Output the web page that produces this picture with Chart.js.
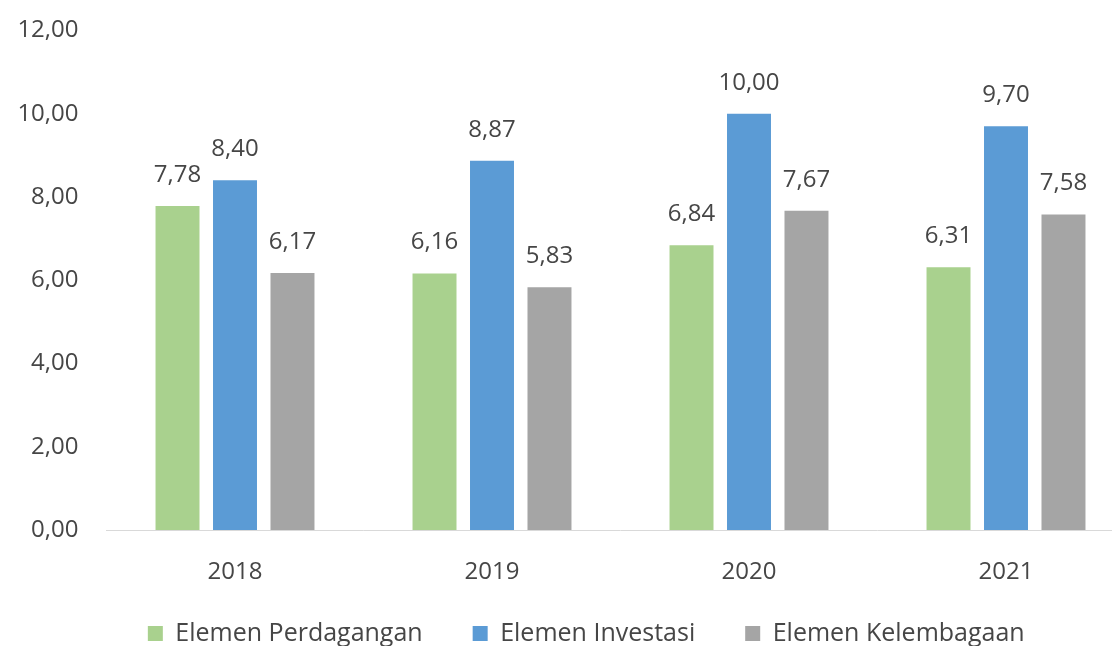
<!DOCTYPE html>
<html lang="id">
<head>
    <meta charset="UTF-8">
    <title>Elemen Perdagangan, Investasi, Kelembagaan</title>
    <script src="https://cdn.jsdelivr.net/npm/chart.js"></script>
    <style>
        html, body { margin: 0; padding: 0; background: #fff; overflow: hidden; }
        #wrap { width: 1170px; height: 685px; margin-top: -12px; }
    </style>
</head>
<body>
<div id="wrap">
    <canvas id="barChart" width="1170" height="685"></canvas>
</div>
<script>
    const years = ['2018', '2019', '2020', '2021'];
    const perdagangan = [7.78, 6.16, 6.84, 6.31];
    const investasi = [8.40, 8.87, 10.00, 9.70];
    const kelembagaan = [6.17, 5.83, 7.67, 7.58];
    const yTicks = [0, 2, 4, 6, 8, 10, 12];

    const textColor = '#464646';
    const fontFamily = '"Open Sans", "Noto Sans", sans-serif';

    function fmt(v) {
        return v.toFixed(2).replace('.', ',');
    }

    // value labels above each bar
    const barLabels = {
        id: 'barLabels',
        afterDatasetsDraw(chart) {
            const ctx = chart.ctx;
            ctx.save();
            ctx.fillStyle = textColor;
            ctx.font = '24px ' + fontFamily;
            ctx.textAlign = 'center';
            ctx.textBaseline = 'middle';
            chart.data.datasets.forEach((ds, i) => {
                chart.getDatasetMeta(i).data.forEach((bar, j) => {
                    ctx.fillText(fmt(ds.data[j]), bar.x, bar.y - 31);
                });
            });
            ctx.restore();
        }
    };

    // nudge the legend a bit closer to the axis labels, like the original
    const legendNudge = {
        id: 'legendNudge',
        afterLayout(chart) {
            const lg = chart.legend;
            lg.top -= 17;
            lg.bottom -= 17;
            lg.left += 19;
            lg.right += 19;
        }
    };

    const ctx = document.getElementById('barChart').getContext('2d');
    new Chart(ctx, {
        type: 'bar',
        data: {
            labels: years,
            datasets: [
                { label: 'Elemen Perdagangan', data: perdagangan, backgroundColor: '#A9D18E' },
                { label: 'Elemen Investasi', data: investasi, backgroundColor: '#5B9BD5' },
                { label: 'Elemen Kelembagaan', data: kelembagaan, backgroundColor: '#A5A5A5' }
            ]
        },
        options: {
            responsive: false,
            animation: false,
            categoryPercentage: 0.671,
            barPercentage: 0.765,
            layout: {
                padding: { top: 8, right: 35.5, left: 0, bottom: 0 }
            },
            plugins: {
                tooltip: { enabled: false },
                legend: {
                    position: 'bottom',
                    labels: {
                        color: textColor,
                        font: { family: fontFamily, size: 25 },
                        boxWidth: 15,
                        boxHeight: 15,
                        padding: 50
                    }
                }
            },
            scales: {
                x: {
                    grid: { display: false },
                    border: { display: true, color: '#D9D9D9', width: 1 },
                    ticks: {
                        color: textColor,
                        font: { family: fontFamily, size: 24 },
                        padding: 20
                    },
                    afterFit(scale) { scale.height = 58; }
                },
                y: {
                    min: 0,
                    max: 12,
                    afterBuildTicks(scale) {
                        scale.ticks = yTicks.map(v => ({ value: v }));
                    },
                    grid: { display: false, drawTicks: false },
                    border: { display: false },
                    ticks: {
                        color: textColor,
                        font: { family: fontFamily, size: 24 },
                        padding: 28,
                        callback: v => fmt(v)
                    },
                    afterFit(scale) { scale.width = 106.5; }
                }
            }
        },
        plugins: [barLabels, legendNudge]
    });
</script>
</body>
</html>
